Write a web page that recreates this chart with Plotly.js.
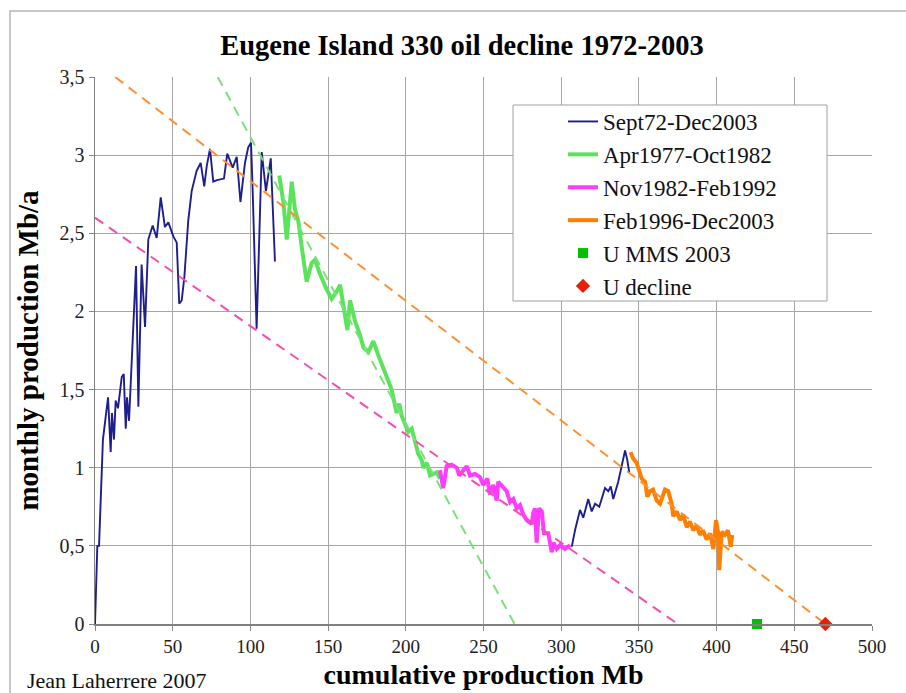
<!DOCTYPE html>
<html>
<head>
<meta charset="utf-8">
<script src="https://cdn.plot.ly/plotly-3.0.1.min.js"></script>
<style>html,body{margin:0;padding:0;background:#fff;}#chart{width:906px;height:693px;}</style>
</head>
<body>
<div id="chart"></div>
<script>
// Sept72-Dec2003 (visible parts)
const blueX = [0,1.5,2.6,5.1,8.4,10.1,10.9,12.2,13.3,14.8,17.2,18.5,19.8,20.6,21.9,23.0,26.4,27.9,30.0,32.2,34.3,37.1,39.7,42.3,45.0,47.2,50.4,52.6,54.2,55.8,57.5,60.0,62.2,65.4,68.0,70.3,71.9,74.0,76.1,78.5,81.5,83.0,85.1,86.9,88.6,91.2,93.6,96.5,98.6,100.4,101.5,104.0,107.3,110.0,113.1,115.8,
  null,
  306.8,308.9,312.1,314.2,317.4,319.6,321.8,324.5,328.2,330.3,331.9,333.5,336.7,338.9,341.1,342.5,343.8];
const blueY = [0,0.5,0.5,1.18,1.45,1.1,1.35,1.18,1.43,1.38,1.58,1.6,1.25,1.45,1.3,1.56,2.29,1.39,2.3,1.9,2.46,2.55,2.47,2.73,2.54,2.57,2.48,2.44,2.05,2.07,2.22,2.58,2.77,2.9,2.95,2.8,2.93,3.04,2.83,2.84,2.85,2.85,3.01,2.96,2.92,2.99,2.70,2.95,3.05,3.08,2.76,1.89,3.02,2.77,2.98,2.32,
  null,
  0.495,0.60,0.73,0.68,0.80,0.72,0.77,0.75,0.87,0.85,0.88,0.80,0.91,1.0,1.11,1.05,0.97];

// Apr1977-Oct1982
const greenX = [118.6,121.2,123.4,125.5,126.6,128.7,130.8,133.2,136.2,139.4,141.6,144.8,148.6,152.3,155.1,157.7,160.2,162.4,164.1,167.3,170.5,172.7,175.9,179.1,182.3,185.5,187.9,190.9,194.1,195.8,197.4,199.5,201.6,203.8,205.9,208.0,210.2,211.3,213.6,215.6,219.9,222.0];
const greenY = [2.87,2.70,2.46,2.73,2.83,2.65,2.58,2.40,2.19,2.31,2.33,2.24,2.15,2.08,2.12,2.17,2.02,1.88,2.07,1.94,1.85,1.77,1.74,1.81,1.72,1.64,1.58,1.50,1.35,1.41,1.33,1.28,1.23,1.25,1.16,1.09,1.05,1.00,1.03,0.95,0.97,0.93];

// Nov1982-Feb1992
const pinkX = [222.0,224.1,226.3,229.5,232.8,234.4,236.8,239.2,241.3,244.5,247.7,249.9,252.4,254.2,256.3,258.5,259.5,261.9,264.9,267.1,269.2,271.4,273.5,275.6,277.8,281.0,282.0,283.1,284.2,285.7,287.5,288.9,291.7,293.9,295.0,297.1,299.3,302.4,305.7];
const pinkY = [0.985,0.87,1.01,1.02,1.0,0.95,0.98,1.01,0.95,0.96,0.94,0.89,0.93,0.83,0.89,0.79,0.91,0.88,0.85,0.78,0.80,0.74,0.76,0.70,0.665,0.64,0.71,0.74,0.52,0.74,0.72,0.58,0.58,0.46,0.52,0.48,0.505,0.48,0.505];

// Feb1996-Dec2003
const orangeX = [344.7,346.2,348.6,350.3,351.8,354.0,355.4,357.1,359.1,361.5,363.6,366.8,368.9,371.1,372.1,374.3,376.5,378.4,380.8,382.9,385.0,387.2,389.3,391.2,393.6,395.8,397.9,399.6,401.1,401.7,403.3,405.4,407.3,409.1,410.1];
const orangeY = [1.10,1.06,1.03,0.985,0.93,0.91,0.815,0.85,0.86,0.79,0.77,0.86,0.85,0.77,0.69,0.72,0.665,0.70,0.62,0.655,0.60,0.63,0.57,0.60,0.54,0.58,0.48,0.665,0.58,0.345,0.59,0.57,0.60,0.495,0.57];

// ultimate estimates
const mmsX = [426], mmsY = [0];
const declX = [470], declY = [0];

// decline trend lines
const fitGreenX = [79, 270], fitGreenY = [3.5, 0];
const fitPinkX = [0, 375], fitPinkY = [2.6, 0];
const fitOrangeX = [13, 470], fitOrangeY = [3.5, 0];

const xTicks = [0,50,100,150,200,250,300,350,400,450,500];
const yTicks = [0,0.5,1,1.5,2,2.5,3,3.5];

const SERIF = 'Liberation Serif';

const traces = [
  {x: blueX, y: blueY, name: 'Sept72-Dec2003', mode: 'lines', line: {color: '#1e1e8e', width: 1.9}, connectgaps: false},
  {x: greenX, y: greenY, name: 'Apr1977-Oct1982', mode: 'lines', line: {color: '#5ce35c', width: 4}},
  {x: pinkX, y: pinkY, name: 'Nov1982-Feb1992', mode: 'lines', line: {color: '#ff3cff', width: 4}},
  {x: orangeX, y: orangeY, name: 'Feb1996-Dec2003', mode: 'lines', line: {color: '#ff8000', width: 4}},
  {x: fitGreenX, y: fitGreenY, mode: 'lines', showlegend: false, hoverinfo: 'skip', line: {color: '#7be07b', width: 2, dash: '10px,7px'}},
  {x: fitPinkX, y: fitPinkY, mode: 'lines', showlegend: false, hoverinfo: 'skip', line: {color: '#f24fb0', width: 2, dash: '10px,7px'}},
  {x: fitOrangeX, y: fitOrangeY, mode: 'lines', showlegend: false, hoverinfo: 'skip', line: {color: '#ff9030', width: 2, dash: '10px,7px'}},
  {x: mmsX, y: mmsY, name: 'U MMS 2003', mode: 'markers', cliponaxis: false, marker: {symbol: 'square', color: '#00c000', size: 10}},
  {x: declX, y: declY, name: 'U decline', mode: 'markers', cliponaxis: false, marker: {symbol: 'diamond', color: '#e8200a', size: 11}}
];

const layout = {
  width: 906, height: 693,
  margin: {l: 95, r: 34, t: 77, b: 69},
  paper_bgcolor: '#ffffff', plot_bgcolor: '#ffffff',
  separators: ', ',
  font: {family: SERIF, color: '#111'},
  title: {text: '<b>Eugene Island 330 oil decline 1972-2003</b>', font: {family: SERIF, size: 28.5, color: '#000'}, x: 462/906, xanchor: 'center', y: 1 - 45/693, yanchor: 'middle', yref: 'container'},
  xaxis: {
    range: [0, 500], tickvals: xTicks, ticks: 'outside', ticklen: 5, tickcolor: '#888',
    showgrid: true, gridcolor: '#a6a6a6', gridwidth: 1, zeroline: false,
    showline: true, linecolor: '#808080', linewidth: 1.5,
    tickfont: {family: SERIF, size: 19, color: '#222'},
    title: {text: '<b>cumulative production Mb</b>', font: {family: SERIF, size: 28, color: '#000'}, standoff: 8}
  },
  yaxis: {
    range: [0, 3.5], tickvals: yTicks, ticks: 'outside', ticklen: 5, tickcolor: '#888',
    showgrid: true, gridcolor: '#a6a6a6', gridwidth: 1, zeroline: false,
    showline: true, linecolor: '#808080', linewidth: 1.5,
    tickfont: {family: SERIF, size: 20, color: '#222'},
    title: {text: '<b>monthly production Mb/a</b>', font: {family: SERIF, size: 29, color: '#000'}, standoff: 12}
  },
  legend: {
    x: (563-95)/777, y: (624-100)/547, xanchor: 'left', yanchor: 'top',
    bgcolor: 'rgba(0,0,0,0)', borderwidth: 0,
    font: {family: SERIF, size: 23, color: '#111'},
    tracegroupgap: 0
  },
  shapes: [
    {type: 'rect', xref: 'paper', yref: 'paper', x0: (10-95)/777, x1: (920-95)/777, y0: (624-710)/547, y1: (624-11)/547, line: {color: '#b5b5b5', width: 1.5}, fillcolor: 'rgba(0,0,0,0)', layer: 'below'},
    {type: 'rect', xref: 'paper', yref: 'paper', x0: (513-95)/777, x1: (827-95)/777, y0: (624-301)/547, y1: (624-105)/547, line: {color: '#a0a0a0', width: 1}, fillcolor: '#ffffff', layer: 'above'}
  ],
  annotations: [
    {text: 'Jean Laherrere 2007', xref: 'paper', yref: 'paper', x: (25-95)/777, y: (624-680)/547, xanchor: 'left', yanchor: 'middle', showarrow: false, font: {family: SERIF, size: 22, color: '#111'}}
  ]
};

Plotly.newPlot('chart', traces, layout, {displayModeBar: false, staticPlot: true});
</script>
</body>
</html>
